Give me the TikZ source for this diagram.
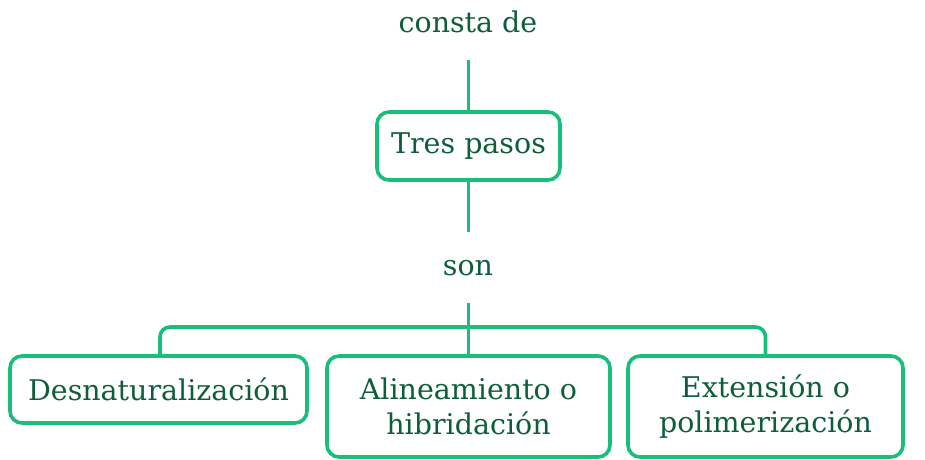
\documentclass[tikz,border=0pt]{standalone}
\usepackage{fontspec}
\setmainfont{DejaVu Serif}
\definecolor{linegreen}{RGB}{24,190,122}
\definecolor{textgreen}{RGB}{14,94,59}
\begin{document}
\begin{tikzpicture}[x=1pt, y=-1pt,
        link/.style={draw=linegreen, line width=3.6pt},
        stepbox/.style={draw=linegreen, line width=3.6pt, rounded corners=12pt, fill=white,
            text=textgreen, align=center, inner sep=0pt, font=\fontsize{28.5}{35}\selectfont},
        word/.style={text=textgreen, inner sep=0pt, font=\fontsize{28.5}{35}\selectfont}]
        \useasboundingbox (0,0) rectangle (925,459);
        \node[word] (consta) at (468,22) {consta de};
        \node[stepbox, minimum width=183pt, minimum height=68pt] (tres) at (468.5,146) {Tres pasos};
        \node[word] (son) at (468,268) {son};
        \node[stepbox, minimum width=297pt, minimum height=67pt] (desna) at (158.5,389.5) {Desnaturalización};
        \node[stepbox, minimum width=283pt, minimum height=101pt] (aline) at (468.5,406.5) {Alineamiento o\\hibridación};
        \node[stepbox, minimum width=275pt, minimum height=101pt] (exten) at (765.5,406.5) {Extensión o\\polimerización};
        \coordinate (bus) at (468.5,327);
        \draw[link] (468.5,60) -- (tres.north);
        \draw[link] (tres.south) -- (468.5,232);
        \draw[link] (468.5,303) -- (aline.north);
        \draw[link, rounded corners=10pt] (desna.north -| 160,0) |- (bus) -| (exten.north);
    \end{tikzpicture}
\end{document}
